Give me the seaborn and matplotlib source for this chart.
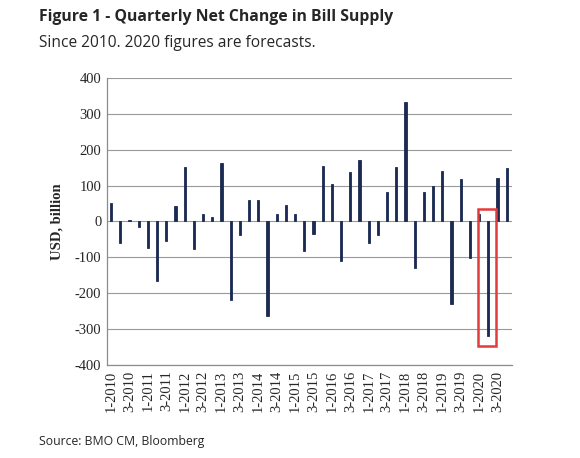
import matplotlib
matplotlib.use("Agg")
import matplotlib.pyplot as plt
import matplotlib.patches as mpatches
import seaborn as sns
import pandas as pd

years = list(range(2010, 2021))
quarters = [f"{q}-{y}" for y in years for q in range(1, 5)]
values = [50, -61, 5, -16, -73, -167, -55, 43,
          153, -78, 20, 13, 162, -220, -39, 61,
          60, -263, 22, 46, 20, -82, -36, 154,
          104, -110, 139, 170, -60, -38, 83, 153,
          332, -130, 81, 100, 140, -229, 119, -101,
          20, -319, 121, 148]
yticks = [-400, -300, -200, -100, 0, 100, 200, 300, 400]

df = pd.DataFrame({"quarter": quarters, "value": values})

sns.set_style("white")
fig = plt.figure(figsize=(5.8, 4.58), dpi=100)
ax = fig.add_axes([0.1845, 0.203, 0.698, 0.627])

bar_color = "#1b2a52"
sns.barplot(data=df, x="quarter", y="value", color=bar_color, saturation=1,
            width=0.24, edgecolor=bar_color, linewidth=0.6, ax=ax)

serif = ["Liberation Serif", "DejaVu Serif"]
ax.set_ylim(-400, 400)
ax.set_xlim(-0.45, 43.55)
ax.set_yticks(yticks)
ax.set_yticklabels([str(v) for v in yticks], fontfamily=serif, fontsize=10.5)
xt = list(range(0, 44, 2))
ax.set_xticks(xt)
ax.set_xticklabels([quarters[i] for i in xt], rotation=90, fontfamily=serif, fontsize=10.5)
ax.tick_params(axis="both", length=0, pad=4)
ax.set_xlabel("")
ax.set_ylabel("USD, billion", fontfamily=serif, fontweight="bold", fontsize=10.5, labelpad=8)

for v in yticks:
    ax.axhline(v, color="#999999", linewidth=0.8, zorder=0)
for s in ["top", "right"]:
    ax.spines[s].set_visible(False)
for s in ["left", "bottom"]:
    ax.spines[s].set_color("#8c8c8c")
    ax.spines[s].set_linewidth(0.9)

# red highlight box around the 2020 Q1/Q2 forecast bars
rect = mpatches.Rectangle((39.9, -348), 1.9, 381.5, fill=False,
                          edgecolor="#e23b3b", linewidth=1.8, zorder=5, clip_on=False)
ax.add_patch(rect)

sans = ["Open Sans", "DejaVu Sans"]
fig.text(39 / 580, 1 - 17 / 458, "Figure 1 - Quarterly Net Change in Bill Supply",
         fontfamily=sans, fontweight="bold", fontsize=11.3, va="center", ha="left")
fig.text(39 / 580, 1 - 43 / 458, "Since 2010. 2020 figures are forecasts.",
         fontfamily=sans, fontsize=11.2, va="center", ha="left")
fig.text(39 / 580, 1 - 441 / 458, "Source: BMO CM, Bloomberg",
         fontfamily=sans, fontsize=8.8, va="center", ha="left")

fig.savefig("out.png", dpi=100, facecolor="white")
